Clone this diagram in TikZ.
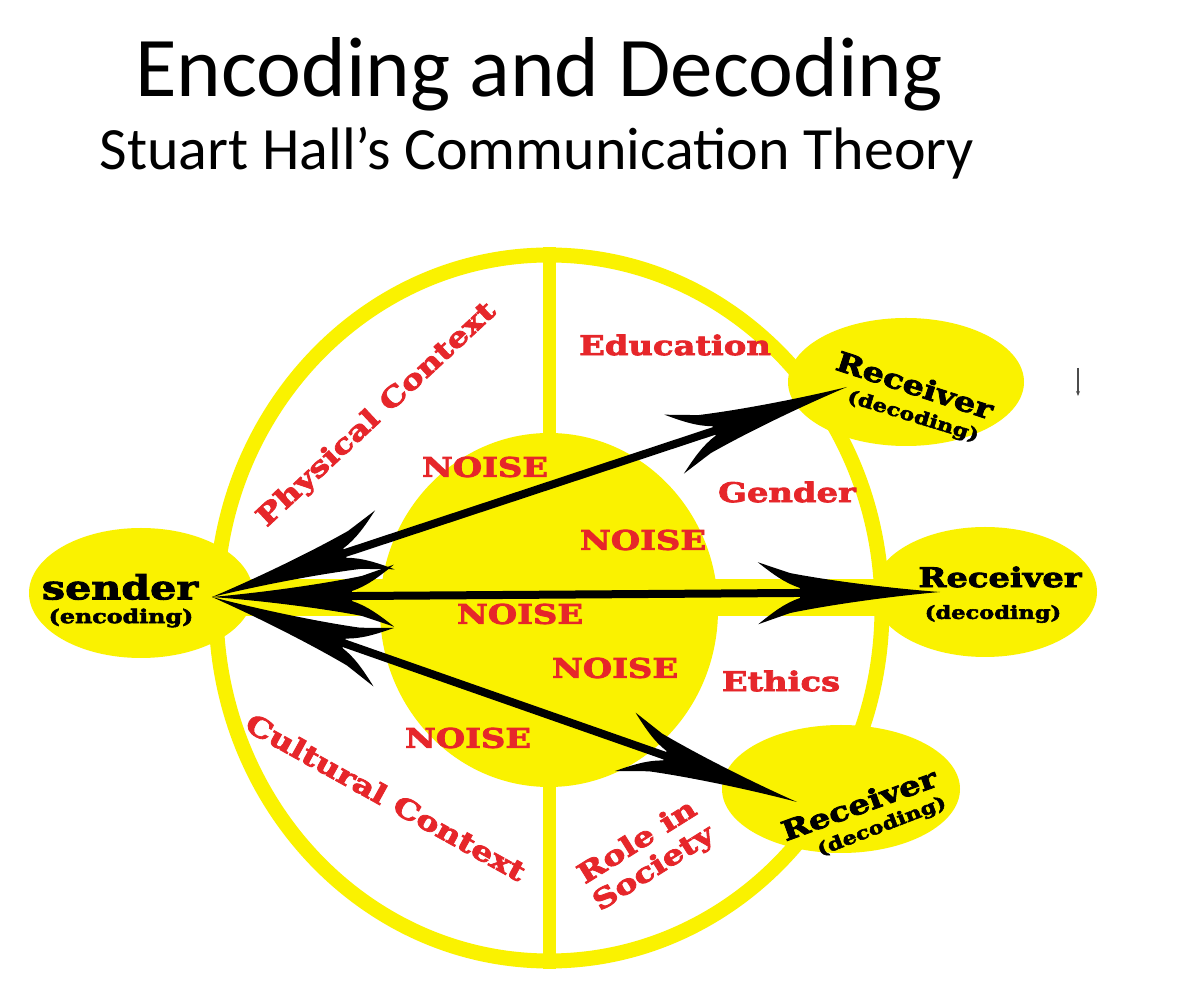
\documentclass[tikz,border=0pt]{standalone}
\usepackage{fontspec}
\usetikzlibrary{shapes.geometric,arrows.meta}
\newfontfamily\titlefont{Carlito}
\newfontfamily\slab[FakeStretch=1.25, BoldFeatures={FakeBold=3}]{DejaVu Serif}
\definecolor{ylw}{RGB}{250,242,0}
\definecolor{lblred}{RGB}{230,38,42}
\newcommand{\headshape}{(0,0) .. controls (-50,4) and (-110,12) .. (-150,20) -- (-182,31) .. controls (-167,19) and (-155,10) .. (-140,5) -- (-140,-5) .. controls (-155,-10) and (-167,-19) .. (-182,-31) -- (-150,-20) .. controls (-110,-12) and (-50,-4) .. (0,0) -- cycle}
\begin{document}
\begin{tikzpicture}[x=1pt,y=1pt,
  ringstyle/.style={ellipse, draw=ylw, line width=15, inner sep=0},
  fillell/.style={ellipse, fill=ylw, inner sep=0},
  redlbl/.style={text=lblred, font=\slab\bfseries\fontsize{27}{31}\selectfont, inner sep=0, align=center},
  blk/.style={text=black, font=\slab\bfseries\fontsize{#1}{#1}\selectfont, inner sep=0},
  shaft/.style={draw=black, line width=8, shorten >=60pt, shorten <=60pt},
  headfwd/.pic={\fill[black] \headshape;},
  headbwd/.pic={\fill[black, xscale=-1] \headshape;}
]
\useasboundingbox (0,0) rectangle (1200,1002);
\fill[white] (0,0) rectangle (1200,1002);

% titles
\node[anchor=base, font=\titlefont\fontsize{85}{95}\selectfont, inner sep=0] (title) at (539,905) {Encoding and Decoding};
\node[anchor=base, font=\titlefont\fontsize{60}{68}\selectfont, inner sep=0] (subtitle) at (537,832) {Stuart Hall’s Communication Theory};

% outer ring and dividers
\node[ringstyle, minimum width=666, minimum height=706] (ring) at (549,394) {};
\draw[ylw, line width=13] (ring.north) -- (ring.south);
\draw[ylw, line width=37] (215,404) -- (880,404);
\node[fillell, minimum width=338, minimum height=354] (core) at (549,392) {};

% sender and receivers
\node[fillell, minimum width=224, minimum height=130] (sender) at (141,409) {};
\node[fillell, minimum width=236, minimum height=128] (rtop) at (906,620) {};
\node[fillell, minimum width=224, minimum height=130] (rmid) at (985,410) {};
\node[fillell, minimum width=238, minimum height=128] (rbot) at (841,213) {};

% red labels
\node[redlbl] (n1) at (485,535) {NOISE};
\node[redlbl] (n2) at (643,462) {NOISE};
\node[redlbl] (n3) at (520,388) {NOISE};
\node[redlbl] (n4) at (615,334) {NOISE};
\node[redlbl] (n5) at (468,264) {NOISE};
\node[redlbl] (edu) at (675,657) {Education};
\node[redlbl] (gen) at (787,510) {Gender};
\node[redlbl] (eth) at (781,321) {Ethics};
\node[redlbl, rotate=43] (phys) at (377,587) {Physical Context};
\node[redlbl, rotate=-29] (cult) at (386,205) {Cultural Context};
\node[redlbl, rotate=32] (role) at (646,146) {Role in\\Society};

% arrows
\coordinate (sp) at (212,405);
\coordinate (t1) at (847,615);
\coordinate (t2) at (940,410);
\coordinate (t3) at (797,200);
\draw[shaft] (sp) -- (t1) pic[pos=1, sloped]{headfwd} pic[pos=0, sloped]{headbwd};
\draw[shaft] (sp) -- (t2) pic[pos=1, sloped]{headfwd} pic[pos=0, sloped]{headbwd};
\draw[shaft] (sp) -- (t3) pic[pos=1, sloped]{headfwd} pic[pos=0, sloped]{headbwd};

% black texts
\node[blk=33] (sendtxt) at (120,415) {sender};
\node[blk=19] (enctxt) at (121,384) {(encoding)};
\node[blk=27, rotate=-18] (rtoptxt) at (915,617) {Receiver};
\node[blk=18, rotate=-17] (rtopdec) at (913,585) {(decoding)};
\node[blk=27] (rmidtxt) at (1000,425) {Receiver};
\node[blk=18] (rmiddec) at (993,388) {(decoding)};
\node[blk=27, rotate=20] (rbottxt) at (859,198) {Receiver};
\node[blk=18, rotate=21] (rbotdec) at (882,175) {(decoding)};

% stray mark
\coordinate (m1) at (1078,634);
\coordinate (m2) at (1078,606);
\draw[black!70, line width=1.5, -{Stealth[length=5,width=4]}] (m1) -- (m2);
\end{tikzpicture}
\end{document}
